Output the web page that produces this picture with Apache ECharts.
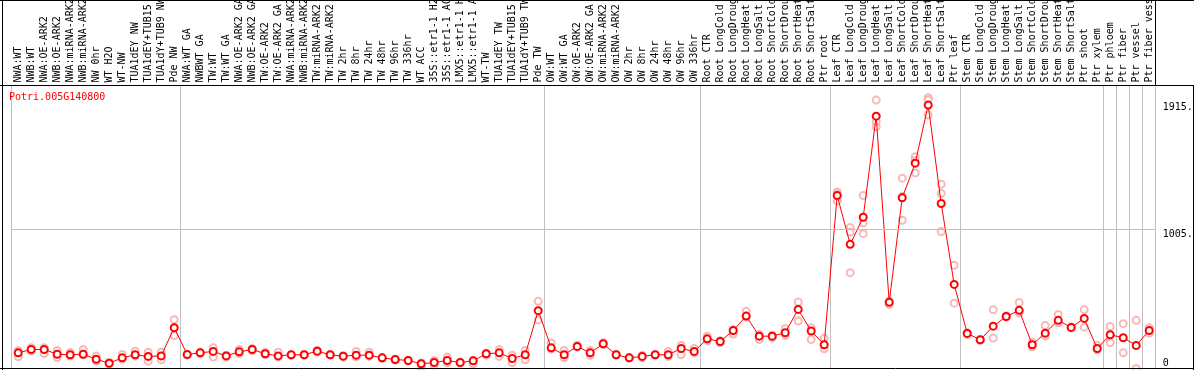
<!DOCTYPE html>
<html><head><meta charset="utf-8">
<script src="https://cdn.jsdelivr.net/npm/echarts@6.0.0/dist/echarts.min.js"></script>
<style>html,body{margin:0;padding:0;background:#fff}#c{width:1194px;height:370px}</style>
</head><body><div id="c"></div>
<script>
const geneName = 'Potri.005G140800';
const categories = [
 'NWA:WT','NWB:WT','NWA:OE-ARK2','NWB:OE-ARK2','NWA:miRNA-ARK2','NWB:miRNA-ARK2','NW 0hr','WT H2O','WT-NW','TUA1dEY NW','TUA1dEY+TUB15 NW','TUA1dY+TUB9 NW','Pde NW',
 'NWA:WT GA','NWBWT GA','TW:WT','TW:WT GA','NWA:OE-ARK2 GA','NWB:OE-ARK2 GA','TW:OE-ARK2','TW:OE-ARK2 GA','NWA:miRNA-ARK2 GA','NWB:miRNA-ARK2 GA','TW:miRNA-ARK2','TW:miRNA-ARK2 GA',
 'TW 2hr','TW 8hr','TW 24hr','TW 48hr','TW 96hr','TW 336hr','WT ACC','35S::etr1-1 H2O','35S::etr1-1 ACC','LMX5::etr1-1 H2O','LMX5::etr1-1 ACC','WT-TW','TUA1dEY TW','TUA1dEY+TUB15 TW','TUA1dY+TUB9 TW','Pde TW',
 'OW:WT','OW:WT GA','OW:OE-ARK2','OW:OE-ARK2 GA','OW:miRNA-ARK2','OW:miRNA-ARK2 GA','OW 2hr','OW 8hr','OW 24hr','OW 48hr','OW 96hr','OW 336hr',
 'Root CTR','Root LongCold','Root LongDrought','Root LongHeat','Root LongSalt','Root ShortCold','Root ShortDrought','Root ShortHeat','Root ShortSalt','Ptr root',
 'Leaf CTR','Leaf LongCold','Leaf LongDrought','Leaf LongHeat','Leaf LongSalt','Leaf ShortCold','Leaf ShortDrought','Leaf ShortHeat','Leaf ShortSalt','Ptr leaf',
 'Stem CTR','Stem LongCold','Stem LongDrought','Stem LongHeat','Stem LongSalt','Stem ShortCold','Stem ShortDrought','Stem ShortHeat','Stem ShortSalt','Ptr shoot',
 'Ptr xylem','Ptr phloem','Ptr fiber','Ptr vessel','Ptr fiber vessel'
];
const means = [
 113,137,137,103,99,103,67,38,77,99,87,91,294,
 101,113,123,91,120,137,106,91,99,99,125,99,
 89,96,96,77,65,58,34,43,58,43,55,106,113,72,99,417,
 149,99,159,113,178,99,77,87,99,99,144,123,
 214,195,274,378,233,233,258,426,270,171,
 1247,895,1090,1819,477,1230,1480,1899,1189,606,
 253,207,305,375,419,171,255,347,296,361,
 144,243,222,166,274
];
const repA = [
 84,150,150,130,115,137,91,43,101,125,118,118,352,
 101,118,149,82,137,144,118,118,99,101,132,101,
 82,123,118,80,67,58,10,58,82,46,34,96,137,96,130,484,
 183,130,166,130,185,101,80,96,101,123,166,144,
 233,185,248,412,209,221,287,479,294,219,
 1273,1016,1247,1935,462,1372,1526,1952,1328,744,
 260,207,424,380,476,190,310,390,300,424,
 165,303,323,347,294
];
const repB = [
 128,125,108,79,90,99,53,34,67,89,53,63,238,
 96,108,82,96,108,130,101,82,94,96,118,96,
 92,84,87,72,60,55,40,24,41,40,60,110,87,41,63,349,
 139,77,154,96,173,96,75,77,96,87,99,113,
 202,200,280,370,245,240,240,342,209,142,
 1208,691,972,1742,485,1069,1410,1827,1261,471,
 245,203,219,370,400,155,235,330,292,298,
 135,186,113,0,255
];
const repC = [
 null,null,null,null,null,null,null,null,null,null,null,null,null,
 null,null,null,null,null,null,null,null,null,null,null,null,
 null,null,null,null,null,null,null,null,null,null,null,null,null,null,null,null,
 null,null,null,null,null,null,null,null,null,null,null,null,
 null,null,null,null,null,null,null,null,null,null,
 1260,984,1050,1780,null,1240,1500,1935,987,null,
 null,null,null,null,null,null,null,null,null,null,
 null,null,null,null,null
];
const groupStarts = [0,13,41,53,63,73,84,85,86,87];
const yTickValues = [0,1005,1915];
const yTickLabels = ['0','1005.','1915.'];
const gridLineValue = 1005;

const FONT = 'DejaVu Sans Mono';
const GREY = '#c0c0c0';
const isSep = (i) => groupStarts.indexOf(i) >= 0;

const reps = [];
[repA, repB, repC].forEach(arr => arr.forEach((v, i) => { if (v !== null) reps.push([i, v]); }));

const W = 1194, H = 370;
const frame = [
 [0, 0.5, W, 0.5], [0, 85.5, W, 85.5], [0, 368.5, W, 368.5],
 [2.5, 0, 2.5, H], [1155.5, 0, 1155.5, 85.5], [1193.5, 85.5, 1193.5, H]
];

const chart = echarts.init(document.getElementById('c'));
chart.setOption({
  animation: false,
  backgroundColor: '#fff',
  title: { text: geneName, left: 9, top: 92, padding: 0,
    textStyle: { color: '#ff0000', fontFamily: FONT, fontSize: 10, fontWeight: 'normal' } },
  grid: { left: 11.7, right: 38.3, top: 85.5, bottom: 1.5, containLabel: false, outerBoundsMode: 'none' },
  xAxis: {
    type: 'category', position: 'top', data: categories, boundaryGap: true,
    axisLine: { show: false },
    axisTick: { show: true, interval: (i) => isSep(i), length: 86, inside: false,
      lineStyle: { color: GREY, width: 1 } },
    axisLabel: { interval: 0, rotate: 90, margin: 3, color: '#000', fontFamily: FONT, fontSize: 10, hideOverlap: false },
    splitLine: { show: true, interval: (i) => isSep(i), lineStyle: { color: GREY, width: 1 } }
  },
  yAxis: {
    type: 'value', position: 'right', min: 0, max: 2040,
    axisLine: { show: false }, axisTick: { show: false }, splitLine: { show: false },
    axisLabel: {
      customValues: yTickValues, margin: 7, color: '#000', fontFamily: FONT, fontSize: 10,
      verticalAlign: 'top', verticalAlignMinLabel: 'bottom',
      formatter: (v) => { const k = yTickValues.indexOf(v); return k >= 0 ? yTickLabels[k] : ''; }
    }
  },
  graphic: frame.map(s => ({ type: 'line', silent: true, z: 100,
    shape: { x1: s[0], y1: s[1], x2: s[2], y2: s[3] }, style: { stroke: '#000', lineWidth: 1 } })),
  series: [
    { type: 'scatter', data: reps, symbol: 'emptyCircle', symbolSize: 7, z: 2,
      itemStyle: { color: '#f4a8a8', borderColor: '#f4a8a8', borderWidth: 1.2 } },
    { type: 'line', data: means, symbol: 'emptyCircle', symbolSize: 7, z: 3,
      lineStyle: { color: '#ff0000', width: 1 },
      itemStyle: { color: '#ff0000', borderColor: '#ff0000', borderWidth: 1.6 },
      markLine: { silent: true, symbol: 'none', label: { show: false },
        lineStyle: { color: GREY, width: 1, type: 'solid' }, data: [{ yAxis: gridLineValue }] } }
  ]
});
</script></body></html>
